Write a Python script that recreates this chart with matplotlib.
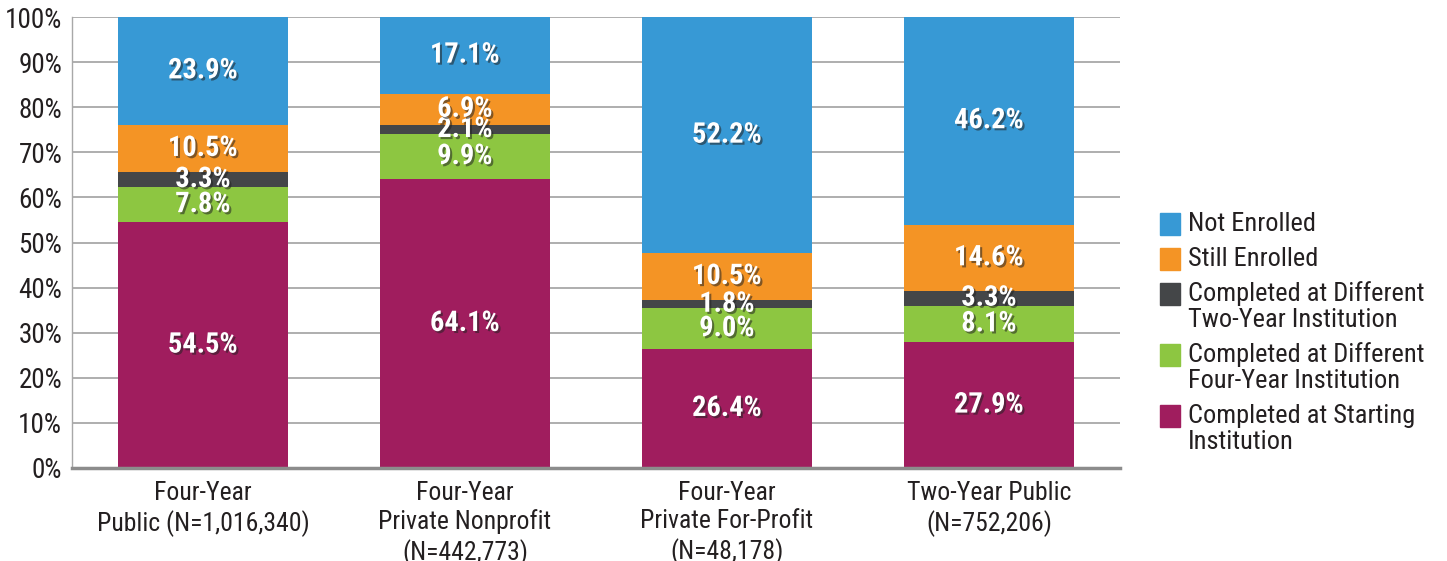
import matplotlib
matplotlib.use('Agg')

import numpy as np
import matplotlib.pyplot as plt
import matplotlib.patheffects as pe
from matplotlib.patches import Rectangle

plt.rcParams['font.family'] = ['Roboto Condensed', 'DejaVu Sans']

# ─── Data ───
categories = ['Four-Year\nPublic (N=1,016,340)',
              'Four-Year\nPrivate Nonprofit\n(N=442,773)',
              'Four-Year\nPrivate For-Profit\n(N=48,178)',
              'Two-Year Public\n(N=752,206)']

# bottom -> top
series_names = ['Completed at Starting\nInstitution',
                'Completed at Different\nFour-Year Institution',
                'Completed at Different\nTwo-Year Institution',
                'Still Enrolled',
                'Not Enrolled']
completed_start = [54.5, 64.1, 26.4, 27.9]
completed_four = [7.8, 9.9, 9.0, 8.1]
completed_two = [3.3, 2.1, 1.8, 3.3]
still_enrolled = [10.5, 6.9, 10.5, 14.6]
not_enrolled = [23.9, 17.1, 52.2, 46.2]

colors = ['#A01D5E', '#8DC641', '#444648', '#F49425', '#3799D5']

series = [completed_start, completed_four, completed_two, still_enrolled, not_enrolled]

# ─── Figure ───
W, H = 1447, 561
fig = plt.figure(figsize=(W / 100, H / 100), dpi=100)
ax = fig.add_axes([72 / W, 1 - 468 / H, (1120 - 72) / W, (468 - 17) / H])

x = np.arange(len(categories))
bottom = np.zeros(len(categories))
shadow = [pe.withSimplePatchShadow(offset=(1.5, -1.5), shadow_rgbFace='#222222', alpha=0.55)]

for vals, col in zip(series, colors):
    vals = np.array(vals)
    ax.bar(x, vals, bottom=bottom, width=0.647, color=col, zorder=2)
    for xi, b, v in zip(x, bottom, vals):
        ax.text(xi, b + v / 2, f'{v:.1f}%', ha='center', va='center',
                color='white', fontsize=20.5, fontweight='bold', zorder=3,
                path_effects=shadow)
    bottom += vals

ax.set_xlim(-0.5, 3.5)
ax.set_ylim(0, 100)
ax.set_yticks(range(0, 101, 10))
ax.set_yticklabels([f'{v}%' for v in range(0, 101, 10)])
ax.set_xticks(x)
ax.set_xticklabels(categories, linespacing=1.25)
ax.tick_params(axis='y', length=0, pad=7, labelsize=19.5, labelcolor='#231F20')
ax.tick_params(axis='x', length=0, pad=9, labelsize=18.5, labelcolor='#231F20')

ax.grid(True, axis='y', color='#A8A8A8', linewidth=1.3, zorder=0)
ax.set_axisbelow(True)
for s in ['top', 'right']:
    ax.spines[s].set_visible(False)
ax.spines['left'].set_color('#A8A8A8')
ax.spines['left'].set_linewidth(1.0)
ax.spines['bottom'].set_color('#8C8C8C')
ax.spines['bottom'].set_linewidth(2.5)

# ─── Legend (top entry first) ───
y_cur = 224
for name, col in zip(series_names[::-1], colors[::-1]):
    fig.add_artist(Rectangle((1160 / W, 1 - (y_cur + 11) / H), 20 / W, 22 / H,
                             transform=fig.transFigure, color=col))
    for j, line in enumerate(name.split('\n')):
        fig.text(1188 / W, 1 - (y_cur + 26 * j) / H, line, ha='left', va='center',
                 fontsize=19, color='#231F20')
    y_cur += 35 + 26 * (len(name.split('\n')) - 1)

fig.savefig('out.png', dpi=100)
